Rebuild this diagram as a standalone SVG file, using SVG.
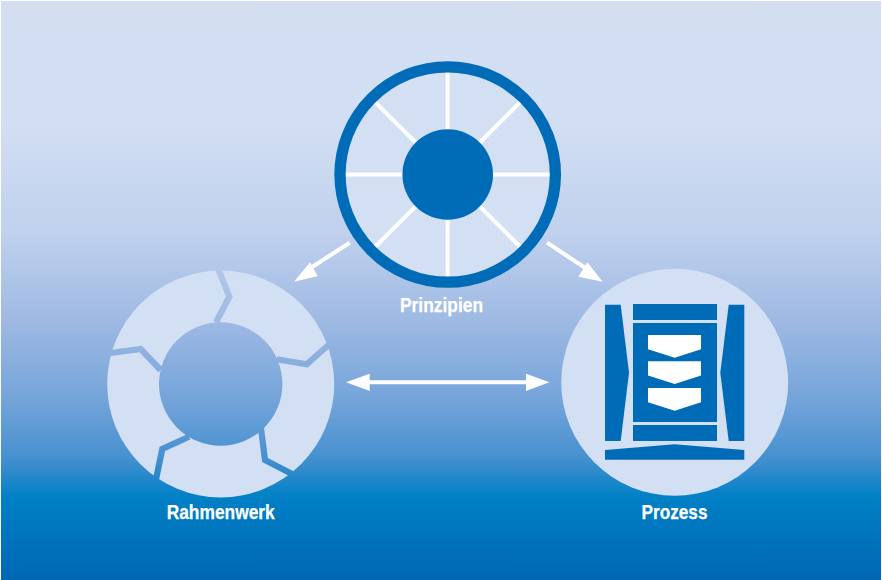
<svg xmlns="http://www.w3.org/2000/svg" width="882" height="580" viewBox="0 0 882 580">
<style>
.light{fill:#d3dff2}
.blue{fill:#006cb8}
.white{fill:#fff}
.gap{fill:none;stroke:url(#bg);stroke-width:6.2;stroke-miterlimit:10}
.spoke{stroke:#fff;stroke-width:4;fill:none}
.conn{stroke:#fff;stroke-width:4;fill:none}
.label{font-family:"Liberation Sans",Arial,sans-serif;font-weight:700;font-size:21px;fill:#fff;stroke:#fff;stroke-width:.25;text-anchor:middle}
</style>
<defs>
<linearGradient id="bg" gradientUnits="userSpaceOnUse" x1="0" y1="0" x2="0" y2="580">
<stop offset="0" stop-color="#d3dff1"/>
<stop offset="0.215" stop-color="#d2def3"/>
<stop offset="0.40" stop-color="#c0d1ee"/>
<stop offset="0.55" stop-color="#9fbae3"/>
<stop offset="0.69" stop-color="#74a4da"/>
<stop offset="0.79" stop-color="#4690cf"/>
<stop offset="0.857" stop-color="#0080c6"/>
<stop offset="1" stop-color="#0067b3"/>
</linearGradient>
</defs>
<rect x="1" y="1" width="880" height="579" fill="url(#bg)"/>
<g id="connectors">
<path class="conn" d="M349.700 242.700L306 271"/>
<polygon class="white" points="294,281.700 310,262.300 317.700,276"/>
<path class="conn" d="M547 242.700L590 271"/>
<polygon class="white" points="602.700,281.700 587.300,262.300 578.300,276.700"/>
<path class="conn" d="M365 382.300H530"/>
<polygon class="white" points="346,382.300 369.700,373.800 369.700,391"/>
<polygon class="white" points="549.500,382.300 526,373.800 526,391"/>
</g>
<g id="prinzipien">
<circle class="light" cx="447.700" cy="174.500" r="107"/>
<path class="spoke" d="M447.700 72V277M345 174.500H550M375 102L520.400 247M520.400 102L375 247"/>
<circle cx="447.700" cy="174.500" r="107.700" fill="none" stroke="#006cb8" stroke-width="11.300"/>
<circle class="blue" cx="447.700" cy="174.500" r="45.300"/>
<text class="label" x="441.500" y="312" textLength="83" lengthAdjust="spacingAndGlyphs">Prinzipien</text>
</g>
<g id="rahmenwerk">
<circle class="light" cx="220.700" cy="384" r="113.500"/>
<path class="gap" d="M216 263L229.300 296.700L216 322.300"/>
<path class="gap" d="M333 341L306.700 364.300L276.700 359.300"/>
<path class="gap" d="M296 476L265 460L261 428.300"/>
<path class="gap" d="M155 484L162.300 449L189 436.700"/>
<path class="gap" d="M103 354L140.700 349L160.700 370"/>
<circle cx="220.700" cy="384" r="61.700" fill="url(#bg)"/>
<text class="label" x="220.700" y="518.500" textLength="108" lengthAdjust="spacingAndGlyphs">Rahmenwerk</text>
</g>
<g id="prozess">
<circle class="light" cx="674.700" cy="382.300" r="113.500"/>
<polygon class="blue" points="605,304.700 620.700,304.700 629,372.700 620.700,441 605,441"/>
<polygon class="blue" points="744.300,304.700 728.700,304.700 720.300,372.700 728.700,441 744.300,441"/>
<rect class="blue" x="633" y="304" width="84" height="16"/>
<rect class="blue" x="633" y="323" width="84" height="99"/>
<rect class="blue" x="633" y="425" width="84" height="16"/>
<polygon class="blue" points="605,450 674.700,444.300 744.300,450 744.300,459.700 605,459.700"/>
<polygon class="white" points="648,335 701,335 701,349.300 674.700,357.700 648,349.300"/>
<polygon class="white" points="648,361.300 701,361.300 701,375.600 674.700,384 648,375.600"/>
<polygon class="white" points="648,388 701,388 701,402.300 674.700,410.700 648,402.300"/>
<text class="label" x="674.500" y="519" textLength="66" lengthAdjust="spacingAndGlyphs">Prozess</text>
</g>
</svg>
